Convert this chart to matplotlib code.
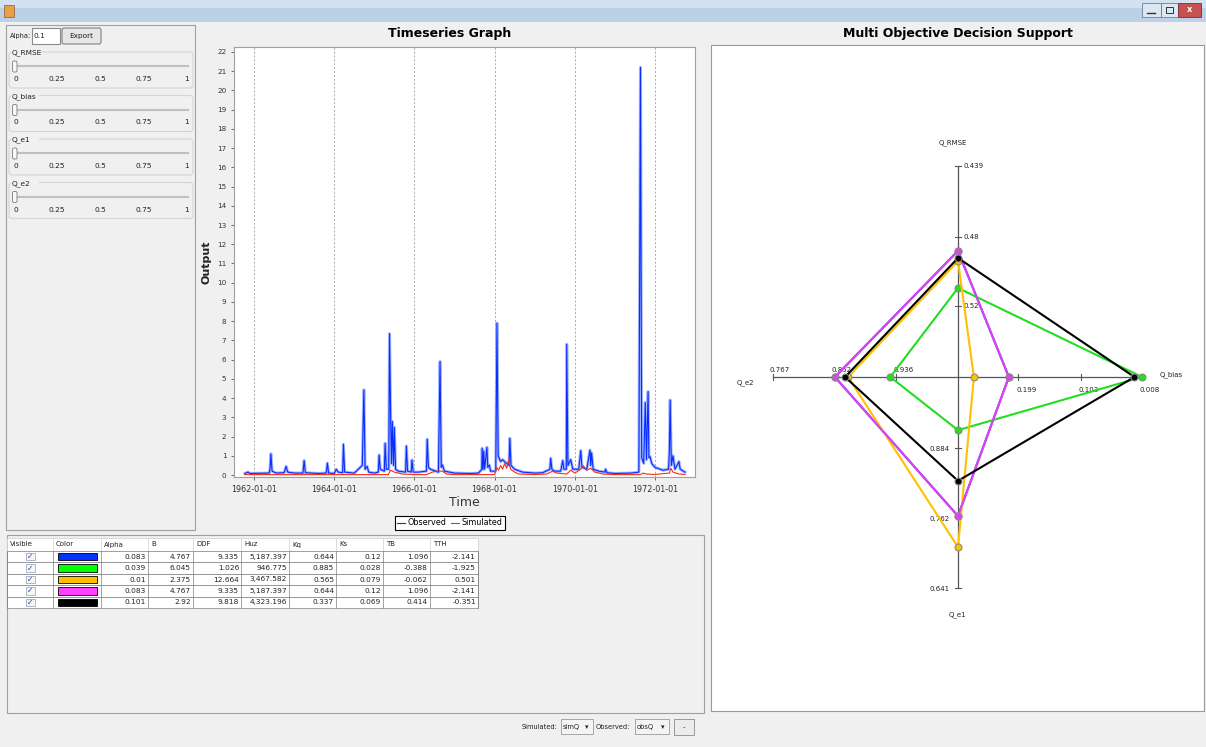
import matplotlib
matplotlib.use("Agg")
import matplotlib.pyplot as plt
from matplotlib.patches import Rectangle, FancyBboxPatch
from matplotlib.lines import Line2D

W, H = 1206, 747

# ---- timeseries data (decimal year, value) ----
obs_t = [1961.77, 1961.85, 1961.9, 1962.38, 1962.40, 1962.42, 1962.45, 1962.55, 1962.75, 1962.80,
         1962.84, 1963.0, 1963.22, 1963.25, 1963.28, 1963.6, 1963.80, 1963.83, 1963.86, 1964.0,
         1964.05, 1964.1, 1964.21, 1964.23, 1964.26, 1964.5, 1964.70, 1964.74, 1964.77, 1964.82,
         1964.86, 1965.0, 1965.10, 1965.12, 1965.15, 1965.25, 1965.27, 1965.3, 1965.36, 1965.38,
         1965.41, 1965.43, 1965.45, 1965.48, 1965.50, 1965.53, 1965.6, 1965.78, 1965.80, 1965.83,
         1965.92, 1965.94, 1965.97, 1966.1, 1966.30, 1966.32, 1966.35, 1966.4, 1966.6, 1966.64,
         1966.67, 1966.7, 1966.75, 1967.0, 1967.4, 1967.6, 1967.68, 1967.69, 1967.71, 1967.73,
         1967.75, 1967.81, 1967.83, 1967.87, 1967.9, 1968.03, 1968.06, 1968.09, 1968.15, 1968.2,
         1968.3, 1968.36, 1968.38, 1968.41, 1968.5, 1968.7, 1969.0, 1969.2, 1969.38, 1969.40,
         1969.43, 1969.5, 1969.65, 1969.7, 1969.73, 1969.79, 1969.80, 1969.83, 1969.9, 1969.95,
         1970.1, 1970.15, 1970.18, 1970.3, 1970.38, 1970.40, 1970.42, 1970.46, 1970.6, 1970.75,
         1970.77, 1970.8, 1971.0, 1971.4, 1971.6, 1971.64, 1971.67, 1971.72, 1971.76, 1971.79,
         1971.83, 1971.85, 1971.88, 1971.92, 1972.0, 1972.2, 1972.34, 1972.36, 1972.38, 1972.41,
         1972.45, 1972.5, 1972.6, 1972.63, 1972.75]
obs_v = [0.08, 0.15, 0.08, 0.1, 0.35, 1.1, 0.2, 0.1, 0.12, 0.45,
         0.15, 0.1, 0.1, 0.75, 0.12, 0.08, 0.1, 0.62, 0.1, 0.08,
         0.3, 0.15, 0.12, 1.6, 0.15, 0.1, 0.5, 4.43, 0.3, 0.45,
         0.15, 0.1, 0.15, 1.04, 0.3, 0.2, 1.65, 0.3, 0.3, 7.35,
         2.6, 0.6, 2.78, 0.5, 2.48, 0.3, 0.2, 0.15, 1.51, 0.2,
         0.15, 0.78, 0.15, 0.15, 0.2, 1.86, 0.4, 0.3, 0.15, 5.9,
         0.4, 0.52, 0.2, 0.1, 0.08, 0.1, 0.3, 1.39, 0.3, 1.25,
         0.3, 1.44, 0.4, 0.52, 0.2, 0.2, 7.9, 1.0, 0.7, 0.8,
         0.6, 0.5, 1.91, 0.5, 0.3, 0.15, 0.1, 0.12, 0.3, 0.87,
         0.3, 0.2, 0.2, 0.75, 0.3, 0.3, 6.8, 0.5, 0.8, 0.3,
         0.3, 1.27, 0.4, 0.3, 1.3, 0.5, 1.15, 0.3, 0.2, 0.15,
         0.3, 0.12, 0.08, 0.1, 0.15, 21.2, 0.9, 0.6, 3.77, 0.8,
         4.34, 0.9, 0.95, 0.6, 0.4, 0.25, 0.3, 1.2, 3.9, 0.5,
         1.0, 0.3, 0.7, 0.3, 0.15]

sim_t = [1961.77, 1965.35, 1965.40, 1965.5, 1965.7, 1966.0, 1966.3, 1966.45, 1966.55, 1966.7,
         1966.8, 1967.0, 1968.0, 1968.05, 1968.1, 1968.15, 1968.2, 1968.25, 1968.3, 1968.35,
         1968.4, 1968.5, 1968.6, 1969.0, 1969.3, 1969.45, 1969.55, 1969.8, 1969.9, 1970.0,
         1970.15, 1970.2, 1970.3, 1970.4, 1970.5, 1970.7, 1971.0, 1971.64, 1971.7, 1971.8,
         1972.0, 1972.36, 1972.4, 1972.45, 1972.6, 1972.75]
sim_v = [0.02, 0.02, 0.25, 0.15, 0.05, 0.02, 0.02, 0.15, 0.2, 0.2,
         0.05, 0.02, 0.02, 0.4, 0.25, 0.5, 0.3, 0.6, 0.35, 0.75,
         0.3, 0.15, 0.05, 0.02, 0.05, 0.2, 0.1, 0.05, 0.25, 0.1,
         0.3, 0.5, 0.25, 0.35, 0.15, 0.05, 0.02, 0.02, 0.1, 0.05,
         0.03, 0.1, 0.35, 0.15, 0.05, 0.03]

year_ticks = [1962, 1964, 1966, 1968, 1970, 1972]
year_labels = ["1962-01-01", "1964-01-01", "1966-01-01", "1968-01-01", "1970-01-01", "1972-01-01"]

# ---- parameter table ----
headers = ["Visible", "Color", "Alpha", "B", "DDF", "Huz", "Kq", "Ks", "TB", "TTH"]
set_colors = ["#0033ff", "#00ff00", "#ffc000", "#ff40ff", "#000000"]
alpha_col = [0.083, 0.039, 0.01, 0.083, 0.101]
b_col = [4.767, 6.045, 2.375, 4.767, 2.92]
ddf_col = [9.335, 1.026, 12.664, 9.335, 9.818]
huz_col = [5187.397, 946.775, 3467.582, 5187.397, 4323.196]
kq_col = [0.644, 0.885, 0.565, 0.644, 0.337]
ks_col = [0.12, 0.028, 0.079, 0.12, 0.069]
tb_col = [1.096, -0.388, -0.062, 1.096, 0.414]
tth_col = [-2.141, -1.925, 0.501, -2.141, -0.351]

# ---- objectives (radar) ----
objectives = ["Q_RMSE", "Q_bias", "Q_e1", "Q_e2"]
obj_ticks = [[0.439, 0.48, 0.52], [0.008, 0.103, 0.199], [0.641, 0.762, 0.884], [0.767, 0.852, 0.936]]
obj_center = [0.5608, 0.2925, 1.0073, 1.021]
obj_end = [0.439, 0.008, 0.641, 0.767]
q_rmse = [0.488, 0.5094, 0.4939, 0.488, 0.4921]
q_bias = [0.2139, 0.008, 0.2679, 0.2139, 0.0197]
q_e1 = [0.766, 0.915, 0.712, 0.766, 0.827]
q_e2 = [0.852, 0.928, 0.870, 0.852, 0.866]
radar_colors = ["#2040ff", "#22dd22", "#ffc000", "#e040f0", "#000000"]

fig = plt.figure(figsize=(W / 100, H / 100), dpi=100)
fig.patch.set_facecolor("#f0f0f0")

gui = fig.add_axes([0, 0, 1, 1])
gui.set_xlim(0, W)
gui.set_ylim(H, 0)
gui.axis("off")


def box(x0, y0, x1, y1, fc="none", ec="#a0a0a0", lw=0.8, z=1):
    gui.add_patch(Rectangle((x0, y0), x1 - x0, y1 - y0, facecolor=fc, edgecolor=ec, lw=lw, zorder=z))


def txt(x, y, s, size=5.5, ha="left", va="center", **kw):
    gui.text(x, y, s, fontsize=size, ha=ha, va=va, color=kw.pop("color", "#222222"), zorder=5, **kw)


# window title bar
box(0, 0, W, 22, fc="#bcd0e6", ec="none")
box(0, 0, W, 8, fc="#d3e1f0", ec="none")
box(4, 5, 14, 17, fc="#e8a040", ec="#806040", lw=0.5)
box(1142, 3, 1161, 17, fc="#dde7f2", ec="#6a7f99", lw=0.6)
box(1161, 3, 1178, 17, fc="#dde7f2", ec="#6a7f99", lw=0.6)
box(1178, 3, 1201, 17, fc="#c75050", ec="#7a3030", lw=0.6)
txt(1189.5, 10, "x", size=6, ha="center", color="white", weight="bold")
gui.plot([1147, 1155], [13, 13], color="#333", lw=1, zorder=5)
box(1166, 7, 1173, 13, ec="#333", lw=0.7, z=5)

# left control panel
box(6, 25, 195, 530)
txt(10, 36, "Alpha:", size=4.8)
box(32, 28, 60, 44, fc="white", ec="#8a8a8a")
txt(34, 36, "0.1", size=5.3)
gui.add_patch(FancyBboxPatch((62, 28), 39, 16, boxstyle="round,pad=0,rounding_size=2",
                             facecolor="#e6e6e6", edgecolor="#707070", lw=0.7, zorder=2))
txt(81.5, 36, "Export", ha="center", size=5.3)
slider_ticks = ["0", "0.25", "0.5", "0.75", "1"]
slider_pos = [16, 57, 100, 144, 187]
for i, name in enumerate(objectives):
    top = 52 + i * 43.5
    gui.add_patch(FancyBboxPatch((9, top), 184, 36, boxstyle="round,pad=0,rounding_size=3",
                                 facecolor="none", edgecolor="#d5d5d5", lw=0.8, zorder=1))
    gui.add_patch(Rectangle((11, top - 4), 28, 8, facecolor="#f0f0f0", edgecolor="none", zorder=2))
    txt(12, top + 1, name, size=5.3)
    gui.plot([15, 188], [top + 14, top + 14], color="#c0c0c0", lw=1.5, zorder=2)
    gui.add_patch(FancyBboxPatch((12.5, top + 9), 4.5, 11, boxstyle="round,pad=0,rounding_size=1.5",
                                 facecolor="#f8f8f8", edgecolor="#7a7a7a", lw=0.6, zorder=3))
    for s, p in zip(slider_ticks, slider_pos):
        txt(p, top + 27, s, size=5.3, ha="center")

# titles
txt(450, 33, "Timeseries Graph", size=9, ha="center", weight="bold", color="black")
txt(958, 33, "Multi Objective Decision Support", size=9, ha="center", weight="bold", color="black")

# timeseries axes
ts = fig.add_axes([234 / W, 1 - 477 / H, (695 - 234) / W, (477 - 47) / H])
ts.set_facecolor("white")
ts.plot(obs_t, obs_v, color="#8ea6ff", lw=2.2, alpha=0.8, zorder=2)
ts.plot(obs_t, obs_v, color="#0a2cff", lw=0.8, zorder=3)
ts.plot(sim_t, sim_v, color="#ff2a10", lw=0.8, zorder=4)
ts.set_xlim(1961.5, 1973.0)
ts.set_ylim(-0.104, 22.26)
ts.set_yticks(range(0, 23))
ts.set_xticks(year_ticks)
ts.set_xticklabels(year_labels)
ts.tick_params(axis="y", labelsize=5.2)
ts.tick_params(axis="x", labelsize=5.8)
ts.tick_params(colors="#555555", length=2, width=0.6, labelcolor="#333333")
ts.grid(axis="x", linestyle=(0, (2, 2)), color="#aaaaaa", lw=0.7)
for sp in ts.spines.values():
    sp.set_color("#a0a0a0")
ts.set_xlabel("Time", fontsize=9, color="#333333", labelpad=2)
ts.set_ylabel("Output", fontsize=8, weight="bold", color="#222222", labelpad=4)
handles = [Line2D([], [], color="#0a2cff", lw=0.8), Line2D([], [], color="#ff2a10", lw=0.8)]
leg = ts.legend(handles, ["Observed", "Simulated"], loc="upper center", ncol=2,
                bbox_to_anchor=(450 / W, 1 - 512 / H), bbox_transform=fig.transFigure,
                fontsize=5.8, handlelength=1.0, handletextpad=0.3, columnspacing=0.6,
                borderpad=0.3, fancybox=False, framealpha=1)
leg.get_frame().set_edgecolor("black")
leg.get_frame().set_linewidth(0.8)

# table panel
box(7, 535, 704, 713)
col_edges = [7, 53, 101, 148, 193, 241, 289, 336, 383, 430, 478]
box(7, 538, 478, 551, fc="white", ec="#d0d0d0", lw=0.5)
for j, h in enumerate(headers):
    txt(col_edges[j] + 3, 544.5, h, size=5)
    gui.plot([col_edges[j], col_edges[j]], [538, 551], color="#d0d0d0", lw=0.5, zorder=2)
row_h = 11.4
cols = [alpha_col, b_col, ddf_col, huz_col, kq_col, ks_col, tb_col, tth_col]
for i in range(5):
    y0 = 551 + i * row_h
    box(7, y0, 478, y0 + row_h, fc="white", ec="#808080", lw=0.5)
    for e in col_edges:
        gui.plot([e, e], [y0, y0 + row_h], color="#808080", lw=0.5, zorder=2)
    box(26, y0 + 2, 35, y0 + row_h - 2, fc="#f4f6fa", ec="#8e9fb8", lw=0.5, z=3)
    txt(30.5, y0 + row_h / 2, "\u2713", size=5.5, ha="center", color="#2d4f8a")
    box(58, y0 + 2, 97, y0 + row_h - 2, fc=set_colors[i], ec="black", lw=0.6, z=3)
    for j, c in enumerate(cols):
        v = c[i]
        s = f"{v:,}" if abs(v) >= 1000 else str(v)
        txt(col_edges[j + 3] - 2, y0 + row_h / 2, s, size=5.3, ha="right")

# bottom controls
txt(558, 727, "Simulated:", size=4.8, ha="right")
box(561, 719, 593, 734, fc="#f4f4f4", ec="#9a9a9a", lw=0.6)
txt(563, 726.5, "simQ", size=4.8)
txt(587, 727, "\u25be", size=5, ha="center")
txt(630, 727, "Observed:", size=4.8, ha="right")
box(635, 719, 669, 734, fc="#f4f4f4", ec="#9a9a9a", lw=0.6)
txt(637, 726.5, "obsQ", size=4.8)
txt(663, 727, "\u25be", size=5, ha="center")
box(674, 719, 694, 735, fc="#ececec", ec="#8a8a8a", lw=0.6)
txt(684, 727, "-", size=5, ha="center")

# radar panel
box(711, 45, 1204, 711, fc="white", ec="#9a9a9a", lw=0.8)
cx, cy = 958, 377
dirs = [(0, -1), (1, 0), (0, 1), (-1, 0)]
lengths = [211, 184, 211, 185]


def radar_pt(k, v):
    d = (obj_center[k] - v) / (obj_center[k] - obj_end[k]) * lengths[k]
    return cx + dirs[k][0] * d, cy + dirs[k][1] * d


for k in range(4):
    ex, ey = radar_pt(k, obj_end[k])
    gui.plot([cx, ex], [cy, ey], color="#555555", lw=0.9, zorder=3)
    for tv in obj_ticks[k]:
        tx, ty = radar_pt(k, tv)
        if dirs[k][0] == 0:
            gui.plot([tx - 3, tx + 3], [ty, ty], color="#555555", lw=0.8, zorder=3)
        else:
            gui.plot([tx, tx], [ty - 3, ty + 3], color="#555555", lw=0.8, zorder=3)
        if k == 0:
            txt(tx + 5, ty, str(tv), size=5)
        elif k == 1:
            txt(tx - 2, ty + 13, str(tv), size=5)
        elif k == 2:
            txt(tx - 8, ty + 1, str(tv), size=5, ha="right")
        else:
            txt(tx - 3, ty - 7, str(tv), size=5)
txt(953, 143, objectives[0], size=5, ha="center")
txt(1171, 375, objectives[1], size=5, ha="center")
txt(957, 615, objectives[2], size=5, ha="center")
txt(745, 383, objectives[3], size=5, ha="center")

for i in range(5):
    vals = [q_rmse[i], q_bias[i], q_e1[i], q_e2[i]]
    pts = [radar_pt(k, vals[k]) for k in range(4)]
    xs = [p[0] for p in pts] + [pts[0][0]]
    ys = [p[1] for p in pts] + [pts[0][1]]
    gui.plot(xs, ys, color=radar_colors[i], lw=1.5, zorder=6 + i)
    gui.plot(xs[:-1], ys[:-1], "o", ms=5, color=radar_colors[i], mec="#8a8a8a", mew=0.8, zorder=6 + i)

fig.savefig("out.png", dpi=100, facecolor=fig.get_facecolor())
